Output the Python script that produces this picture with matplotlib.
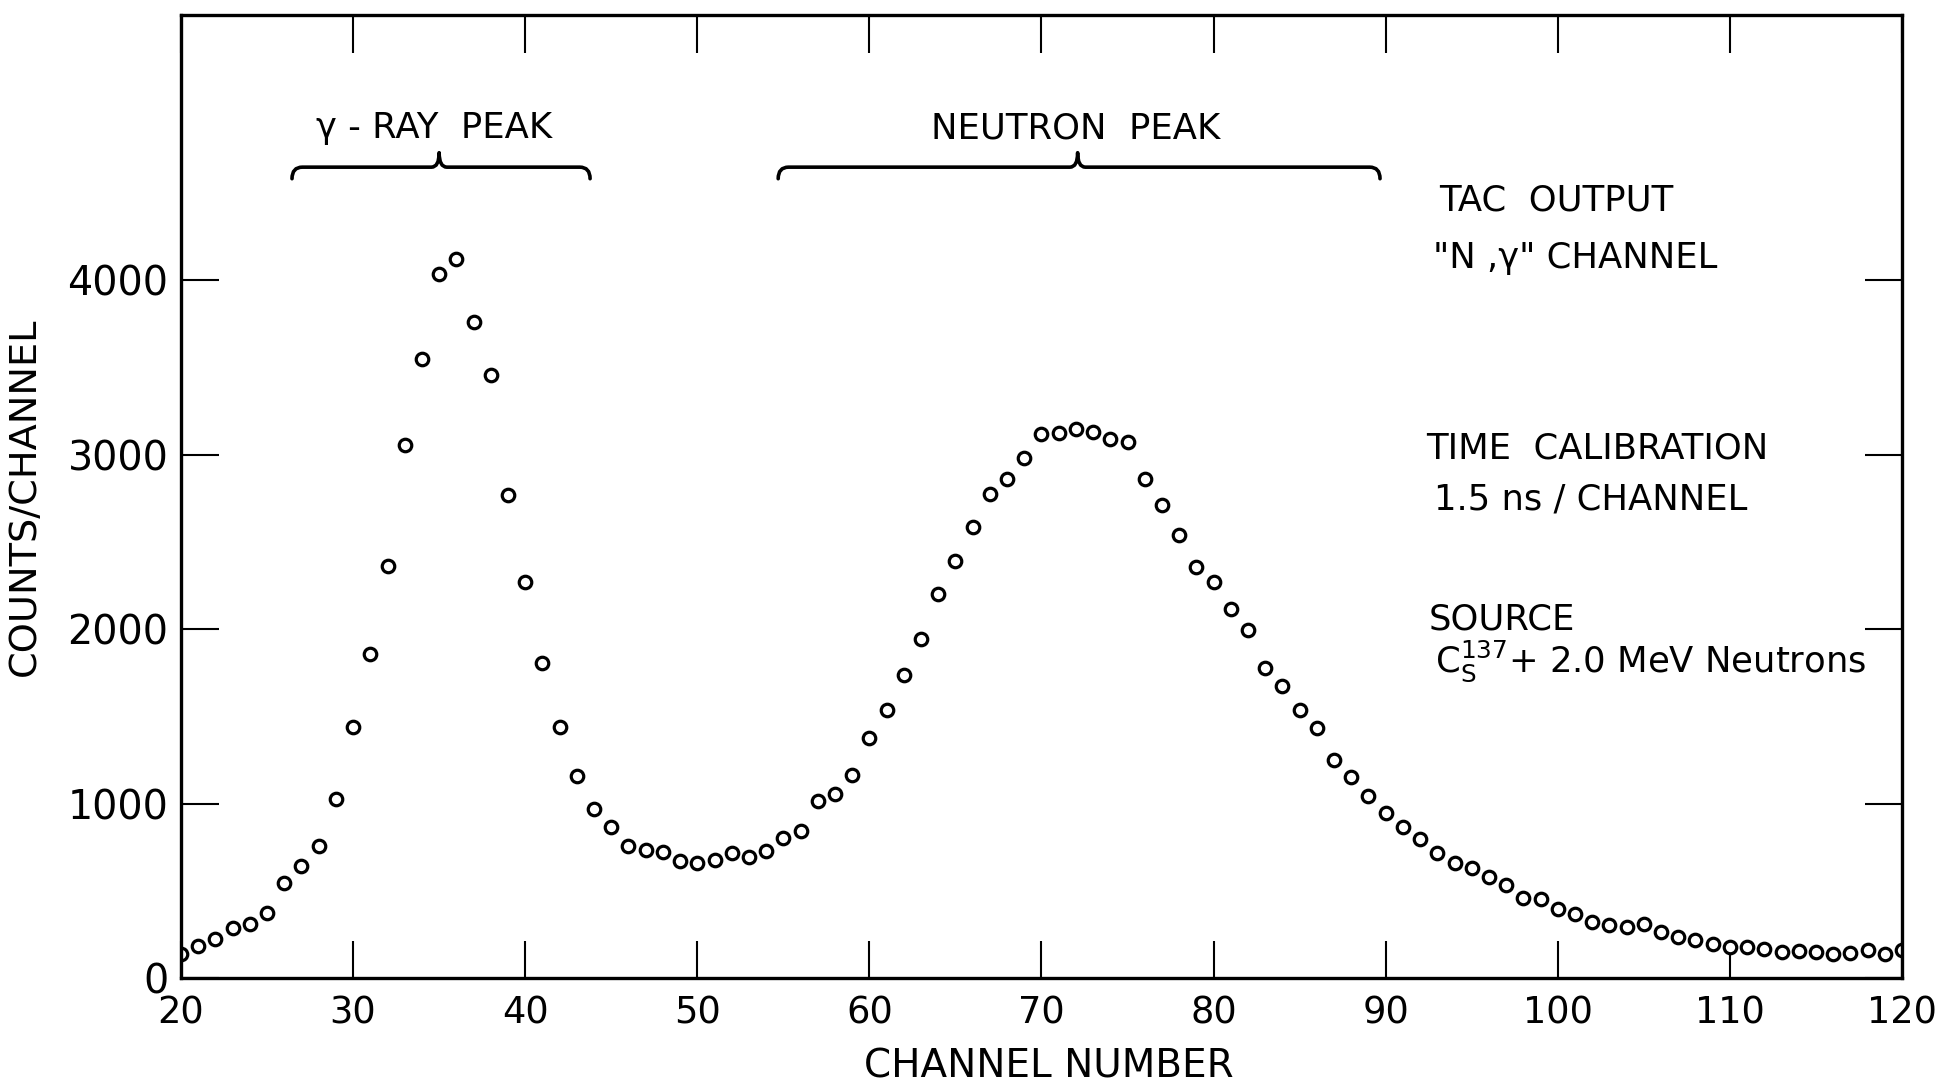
import matplotlib
matplotlib.use("Agg")
import matplotlib.pyplot as plt
from matplotlib.path import Path
from matplotlib.patches import PathPatch
from matplotlib.transforms import blended_transform_factory

# TAC spectrum: counts per channel
channels = list(range(20, 121))
counts = [
    140, 182, 226, 284, 312, 370, 547, 640, 759, 1026,          # 20-29
    1436, 1855, 2363, 3055, 3550, 4035, 4120, 3760, 3455, 2768,  # 30-39
    2270, 1807, 1438, 1160, 967, 868, 758, 732, 722, 668,        # 40-49
    660, 678, 718, 695, 728, 802, 845, 1013, 1057, 1165,         # 50-59
    1377, 1538, 1737, 1944, 2198, 2390, 2582, 2775, 2860, 2983,  # 60-69
    3120, 3123, 3149, 3127, 3087, 3073, 2859, 2710, 2539, 2358,  # 70-79
    2268, 2117, 1996, 1775, 1674, 1534, 1434, 1250, 1153, 1045,  # 80-89
    943, 865, 794, 718, 660, 628, 577, 532, 456, 454,            # 90-99
    397, 367, 322, 304, 294, 311, 264, 235, 217, 196,            # 100-109
    178, 175, 169, 151, 152, 148, 139, 141, 161, 139,            # 110-119
    161,                                                          # 120
]

x_ticks = list(range(20, 121, 10))
x_tick_labels = [str(v) for v in x_ticks]
y_ticks = [0, 1000, 2000, 3000, 4000]
y_tick_labels = [str(v) for v in y_ticks]

# peak brackets: (label, label centre, left channel, tip channel, right channel)
brackets = [
    ("γ - RAY  PEAK", 34.7, 26.45, 35.0, 43.77),
    ("NEUTRON  PEAK", 72.0, 54.7, 72.1, 89.67),
]

info_lines = [
    ("TAC  OUTPUT", 93.08, 0.797),
    ('"N ,γ" CHANNEL', 92.72, 0.737),
    ("TIME  CALIBRATION", 92.35, 0.539),
    ("1.5 ns / CHANNEL", 92.8, 0.487),
    ("SOURCE", 92.5, 0.362),
    (r"$\mathregular{C_S^{137}}$+ 2.0 MeV Neutrons", 92.86, 0.318),
]

main_font = "DejaVu Sans"
plt.rcParams["font.family"] = [main_font]
plt.rcParams["mathtext.fontset"] = "dejavusans"

fig = plt.figure(figsize=(19.58, 10.83), dpi=100)
ax = fig.add_axes([181 / 1958, 1 - 978 / 1083, 1721 / 1958, 963 / 1083])

ax.plot(channels, counts, linestyle="none", marker="o", markersize=9,
        markerfacecolor="white", markeredgecolor="black", markeredgewidth=2.3)

ax.set_xlim(20, 120)
ax.set_ylim(0, 5519)

for side in ["left", "right", "top", "bottom"]:
    ax.spines[side].set_linewidth(2.4)
    ax.spines[side].set_color("black")

ax.set_xticks(x_ticks)
ax.set_xticklabels(x_tick_labels, fontsize=26.5)
ax.set_yticks(y_ticks)
ax.set_yticklabels(y_tick_labels, fontsize=28.5)
ax.tick_params(axis="x", direction="in", length=27, width=1.5, top=True,
               bottom=True, labeltop=False, pad=12)
ax.tick_params(axis="y", direction="in", length=27, width=1.5, left=True,
               right=True, labelright=False, pad=9)

ax.set_xlabel("CHANNEL NUMBER", fontsize=28)
ax.xaxis.set_label_coords(0.504, -0.072)
ax.set_ylabel("COUNTS/CHANNEL", fontsize=27.5)
ax.yaxis.set_label_coords(-0.080, 0.5)

# curly brackets spanning each peak
trans = blended_transform_factory(ax.transData, ax.transAxes)
y_line, y_end, y_tip = 0.842, 0.830, 0.857
for label, xt, x0, xc, x1 in brackets:
    r = 0.6
    r2 = 0.45
    verts = [
        (x0, y_end), (x0, y_line), (x0 + r, y_line),
        (xc - r2, y_line),
        (xc, y_line), (xc, y_tip),
        (xc, y_line), (xc + r2, y_line),
        (x1 - r, y_line),
        (x1, y_line), (x1, y_end),
    ]
    codes = [
        Path.MOVETO, Path.CURVE3, Path.CURVE3,
        Path.LINETO,
        Path.CURVE3, Path.CURVE3,
        Path.CURVE3, Path.CURVE3,
        Path.LINETO,
        Path.CURVE3, Path.CURVE3,
    ]
    ax.add_patch(PathPatch(Path(verts, codes), transform=trans, facecolor="none",
                           edgecolor="black", linewidth=2.6, capstyle="round",
                           joinstyle="round", clip_on=False))
    ax.text(xt, 0.872, label, transform=trans, ha="center", va="baseline",
            fontsize=25.5)

for text, xpos, ypos in info_lines:
    ax.text(xpos, ypos, text, transform=trans, ha="left", va="baseline",
            fontsize=25.5)

fig.savefig("out.png", dpi=100, facecolor="white")
